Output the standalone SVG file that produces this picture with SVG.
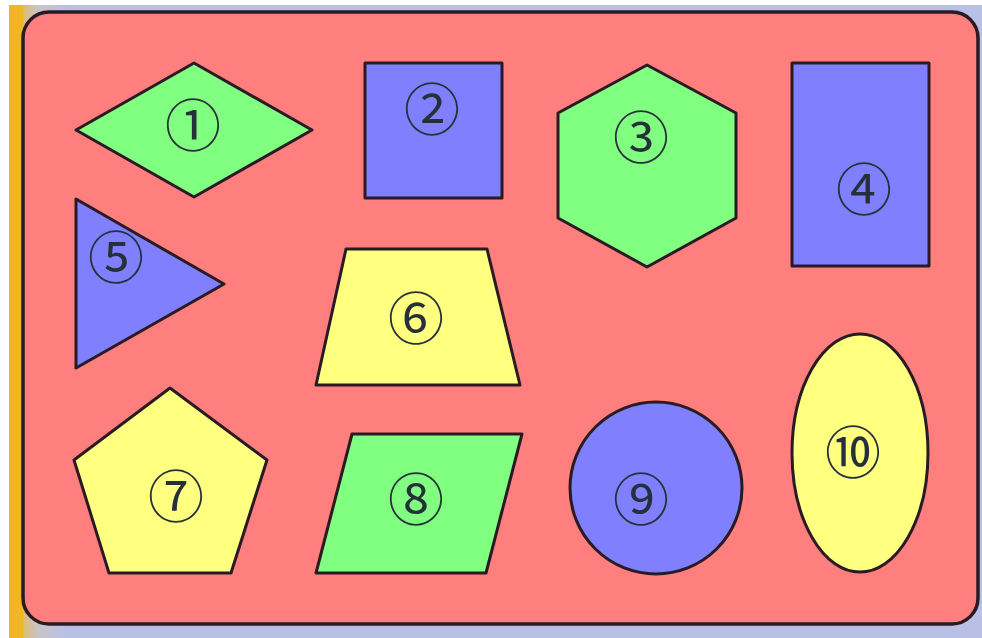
<svg xmlns="http://www.w3.org/2000/svg" width="982" height="638" viewBox="0 0 982 638">
<defs>
<style>
.s{stroke:#2a1a24;stroke-width:3;stroke-linejoin:round}
.g{fill:#80ff80}.b{fill:#8080ff}.y{fill:#ffff80}
.t{font-family:"DejaVu Serif","Noto Sans CJK SC",serif;font-size:56px;fill:#25303a;text-anchor:middle;dominant-baseline:central}
</style>
<linearGradient id="bg" x1="0" y1="0" x2="1" y2="0">
<stop offset="0" stop-color="#f2b622"/><stop offset="0.03" stop-color="#c8c4c8"/><stop offset="0.06" stop-color="#b8c0e6"/><stop offset="1" stop-color="#b8c0e6"/>
</linearGradient>
</defs>
<rect width="982" height="638" fill="#ffffff"/>
<rect x="9" y="5" width="973" height="633" fill="url(#bg)"/>
<rect x="9" y="5" width="14" height="633" fill="#f2b622"/>
<rect x="23" y="12" width="955" height="612" rx="26" fill="#ff7f7f" stroke="#2a1a24" stroke-width="3.5"/>
<g id="n1"><polygon class="s g" points="76,130 194,63 312,130 194,197"/><text class="t" x="193" y="126">①</text></g>
<g id="n2"><rect class="s b" x="365" y="63" width="137" height="135"/><text class="t" x="432" y="110">②</text></g>
<g id="n3"><polygon class="s g" points="558,113 647,65 736,113 736,218 647,267 558,218"/><text class="t" x="641" y="138">③</text></g>
<g id="n4"><rect class="s b" x="792" y="63" width="137" height="203"/><text class="t" x="864" y="190">④</text></g>
<g id="n5"><polygon class="s b" points="76,199 224,284 76,368"/><text class="t" x="116" y="258">⑤</text></g>
<g id="n6"><polygon class="s y" points="346,249 487,249 520,385 316,385"/><text class="t" x="416" y="319">⑥</text></g>
<g id="n7"><polygon class="s y" points="170,388 267,460 231,573 109,573 74,460"/><text class="t" x="176" y="497">⑦</text></g>
<g id="n8"><polygon class="s g" points="352,434 522,434 486,573 316,573"/><text class="t" x="416" y="500">⑧</text></g>
<g id="n9"><circle class="s b" cx="656" cy="488" r="86"/><text class="t" x="641" y="500">⑨</text></g>
<g id="n10"><ellipse class="s y" cx="860" cy="453" rx="68" ry="119"/><text class="t" x="853" y="453">⑩</text></g>
<g id="connectors"/>
</svg>
